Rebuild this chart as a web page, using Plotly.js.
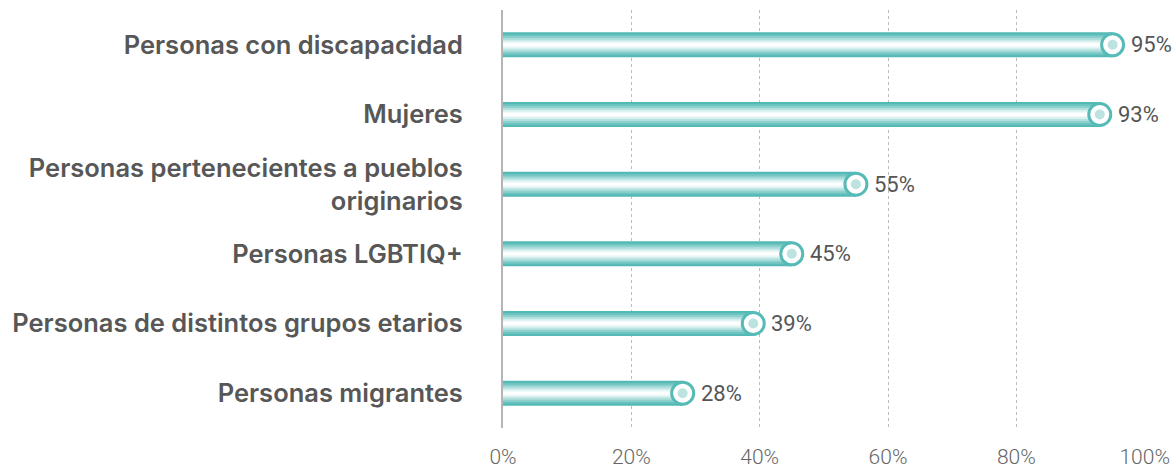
<!DOCTYPE html>
<html>
<head>
<meta charset="utf-8">
<script src="https://cdn.plot.ly/plotly-3.0.1.min.js"></script>
<style>
  html, body { margin: 0; padding: 0; background: #ffffff; }
  #chart { width: 1176px; height: 470px; }
</style>
</head>
<body>
<div id="chart"></div>
<script>
// ---- data ----
const categories = [
  "Personas con discapacidad",
  "Mujeres",
  "Personas pertenecientes a pueblos<br>originarios",
  "Personas LGBTIQ+",
  "Personas de distintos grupos etarios",
  "Personas migrantes"
];
const values = [95, 93, 55, 45, 39, 28];
const valueLabels = values.map(v => v + "%");
const tickValues = [0, 20, 40, 60, 80, 100];
const tickLabels = ["0%", "20%", "40%", "60%", "80%", "100%"];

// ---- styling ----
const teal = "#56bab6";
const condensed = "Roboto, 'Liberation Sans Narrow', sans-serif";
// layered bars to imitate the cylindrical gradient
const layers = [
  { w: 0.36,  c: "#53b9b5" },
  { w: 0.30,  c: "#6cc3c0" },
  { w: 0.245, c: "#8dd1ce" },
  { w: 0.19,  c: "#b0dfdd" },
  { w: 0.135, c: "#d2eeed" },
  { w: 0.085, c: "#edf8f8" },
  { w: 0.04,  c: "#ffffff" }
];

const traces = layers.map(l => ({
  type: "bar",
  orientation: "h",
  x: values,
  y: categories,
  width: l.w,
  marker: { color: l.c, line: { width: 0 } },
  hoverinfo: "skip",
  showlegend: false
}));

traces.push({
  type: "scatter",
  mode: "markers",
  x: values,
  y: categories,
  marker: { size: 22, color: "#ffffff", line: { color: teal, width: 3 } },
  cliponaxis: false,
  hoverinfo: "skip",
  showlegend: false
});
traces.push({
  type: "scatter",
  mode: "markers",
  x: values,
  y: categories,
  marker: { size: 10, color: "#bde3e1", line: { width: 0 } },
  cliponaxis: false,
  hoverinfo: "skip",
  showlegend: false
});

const annotations = values.map((v, i) => ({
  x: v,
  y: categories[i],
  xref: "x",
  yref: "y",
  text: valueLabels[i],
  showarrow: false,
  xanchor: "left",
  yanchor: "middle",
  xshift: 16,
  font: { family: condensed, size: 22, color: "#555555" }
}));

const layout = {
  width: 1176,
  height: 470,
  margin: { l: 503, r: 31, t: 10, b: 42 },
  paper_bgcolor: "#ffffff",
  plot_bgcolor: "#ffffff",
  barmode: "overlay",
  showlegend: false,
  annotations: annotations,
  xaxis: {
    range: [0, 100.05],
    tickvals: tickValues,
    ticktext: tickLabels,
    showgrid: true,
    gridcolor: "#bcbcbc",
    griddash: "dot",
    gridwidth: 1,
    zeroline: false,
    showline: false,
    ticks: "",
    ticklabelstandoff: 14,
    tickfont: { family: condensed, size: 21, color: "#666666", weight: 300 },
    fixedrange: true
  },
  yaxis: {
    type: "category",
    autorange: "reversed",
    showgrid: false,
    zeroline: false,
    showline: true,
    linecolor: "#b5b5b5",
    linewidth: 2,
    ticks: "",
    ticklabelstandoff: 33,
    tickfont: { family: "Inter, 'Noto Sans', sans-serif", size: 25.5, color: "#575757", weight: 600 },
    fixedrange: true
  }
};

Plotly.newPlot("chart", traces, layout, { displayModeBar: false, staticPlot: true });
</script>
</body>
</html>
